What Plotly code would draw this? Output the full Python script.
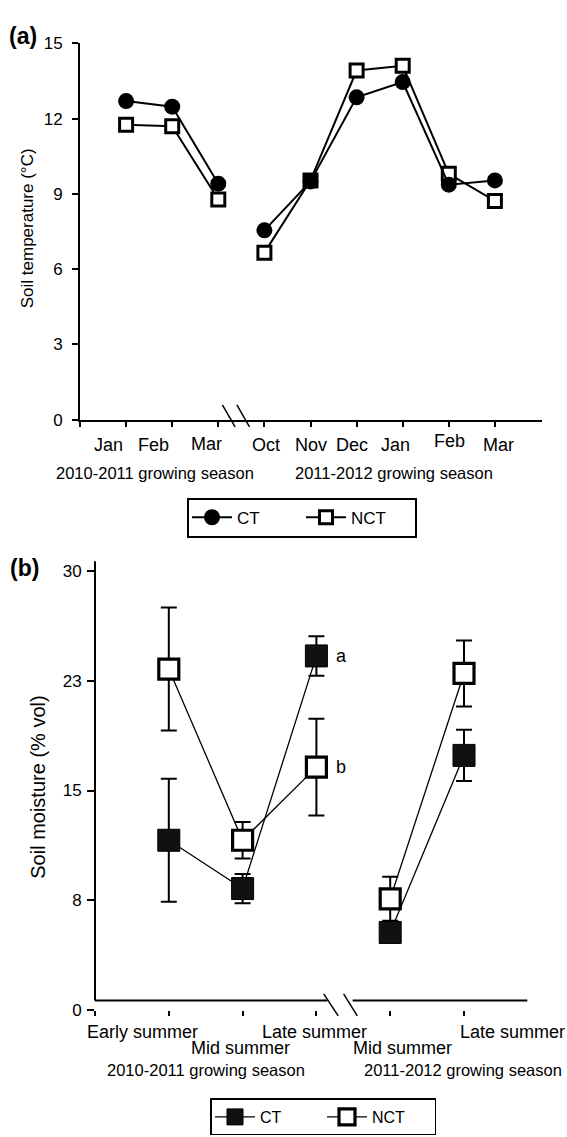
import plotly.graph_objects as go

W, H = 567, 1137
FONT = "Liberation Sans, Arial, Helvetica, sans-serif"

# ---------------- Panel (a) data ----------------
months = ["Jan", "Feb", "Mar", "Oct", "Nov", "Dec", "Jan", "Feb", "Mar"]
month_season = [0, 0, 0, 1, 1, 1, 1, 1, 1]
seasons = ["2010-2011 growing season", "2011-2012 growing season"]
temp_ct = [12.70, 12.48, 9.41, 7.55, 9.50, 12.85, 13.46, 9.37, 9.54]
temp_nct = [11.76, 11.70, 8.78, 6.66, 9.54, 13.92, 14.11, 9.80, 8.72]
temp_ticks = [0, 3, 6, 9, 12, 15]

# ---------------- Panel (b) data ----------------
periods = ["Early summer", "Mid summer", "Late summer", "Mid summer", "Late summer"]
period_season = [0, 0, 0, 1, 1]
moist_ct = [11.6, 8.3, 24.2, 5.3, 17.4]
moist_ct_err = [4.2, 1.0, 1.35, 0.5, 1.75]
moist_nct = [23.3, 11.6, 16.6, 7.6, 23.0]
moist_nct_err = [4.2, 1.25, 3.3, 1.5, 2.25]
moist_tickvals = [0, 7.5, 15, 22.5, 30]
moist_ticktext = ["0", "8", "15", "23", "30"]
sig_letters = ["a", "b"]          # CT / NCT at Late summer 2010-2011
sig_index = 2

# ---------------- layout helpers (pixel -> paper) ----------------
def px(x):
    return x / W

def py(y):
    return 1 - y / H

# label nudges (pixels) -- layout only
month_dx = [-18, -19, -12, 2, 0, -5, -7, 1, 4]
month_y = [443, 443, 442, 443, 443, 443, 443, 439, 443]
period_dx = [-26, -2, -2, 12, 48]
period_y = [1040, 1057, 1040, 1057, 1040]


def split_by_season(vals, groups, errs=None):
    out = {}
    for i, v in enumerate(vals):
        d = out.setdefault(groups[i], {"x": [], "y": [], "e": []})
        d["x"].append(i + 1)
        d["y"].append(v)
        d["e"].append(errs[i] if errs else 0)
    return [out[k] for k in sorted(out)]


fig = go.Figure()

# ---- Panel (a) traces: NCT first, CT on top
for name, vals, sym, rank in [("NCT", temp_nct, "square", 2), ("CT", temp_ct, "circle", 1)]:
    for k, seg in enumerate(split_by_season(vals, month_season)):
        fig.add_trace(go.Scatter(
            x=seg["x"], y=seg["y"], mode="lines+markers", name=name,
            xaxis="x", yaxis="y", legend="legend", legendrank=rank,
            showlegend=(k == 0), legendgroup="a" + name,
            line=dict(color="black", width=2),
            marker=dict(symbol=sym, size=16 if sym == "circle" else 13,
                        color="black" if sym == "circle" else "white",
                        line=dict(color="black", width=0 if sym == "circle" else 3)),
        ))

# ---- Panel (b) traces
for name, vals, errs, fill, size, lw, rank in [
        ("CT", moist_ct, moist_ct_err, "#111111", 22, 1, 1),
        ("NCT", moist_nct, moist_nct_err, "white", 20, 3.2, 2)]:
    for k, seg in enumerate(split_by_season(vals, period_season, errs)):
        fig.add_trace(go.Scatter(
            x=seg["x"], y=seg["y"], mode="lines+markers", name=name,
            xaxis="x2", yaxis="y2", legend="legend2", legendrank=rank,
            showlegend=(k == 0), legendgroup="b" + name,
            line=dict(color="black", width=1.3),
            error_y=dict(type="data", array=seg["e"], visible=True,
                         color="black", thickness=2, width=8),
            marker=dict(symbol="square", size=size, color=fill,
                        line=dict(color="black", width=lw)),
        ))

axis_common = dict(showgrid=False, zeroline=False, color="black",
                   ticks="outside", tickwidth=2, tickcolor="black",
                   tickfont=dict(family=FONT, size=17, color="black"))


def ann(**kw):
    d = dict(showarrow=False, xanchor="center", yanchor="middle")
    d.update(kw)
    return d


annotations = []
for i, m in enumerate(months):
    annotations.append(ann(x=i + 1, y=py(month_y[i]), xref="x", yref="paper",
                           text=m, xshift=month_dx[i],
                           font=dict(family=FONT, size=18, color="black")))
for s, cx in zip(seasons, [155, 394]):
    annotations.append(ann(x=px(cx), y=py(472), xref="paper", yref="paper", text=s,
                           font=dict(family=FONT, size=16.5, color="black")))
for i, p in enumerate(periods):
    annotations.append(ann(x=i + 1, y=py(period_y[i]), xref="x2", yref="paper",
                           text=p, xshift=period_dx[i],
                           font=dict(family=FONT, size=18, color="black")))
for s, cx in zip(seasons, [206, 463]):
    annotations.append(ann(x=px(cx), y=py(1079), xref="paper", yref="paper", text=s,
                           font=dict(family=FONT, size=16.5, color="black")))
annotations.append(ann(x=sig_index + 1, y=moist_ct[sig_index], xref="x2", yref="y2",
                       text=sig_letters[0], xshift=25,
                       font=dict(family=FONT, size=18, color="black")))
annotations.append(ann(x=sig_index + 1, y=moist_nct[sig_index], xref="x2", yref="y2",
                       text=sig_letters[1], xshift=25,
                       font=dict(family=FONT, size=18, color="black")))
annotations.append(ann(x=px(27), y=py(223), xref="paper", yref="paper",
                       text="Soil temperature (°C)", textangle=-90,
                       font=dict(family=FONT, size=17, color="black")))
annotations.append(ann(x=px(38), y=py(792), xref="paper", yref="paper",
                       text="Soil moisture (% vol)", textangle=-90,
                       font=dict(family=FONT, size=20, color="black")))
annotations.append(ann(x=px(23), y=py(27), xref="paper", yref="paper", text="<b>(a)</b>",
                       font=dict(family=FONT, size=23, color="black")))
annotations.append(ann(x=px(24), y=py(569), xref="paper", yref="paper", text="<b>(b)</b>",
                       font=dict(family=FONT, size=23, color="black")))


def seg_shape(x0, y0, x1, y1, w=1.5):
    return dict(type="line", xref="paper", yref="paper", x0=px(x0), y0=py(y0),
                x1=px(x1), y1=py(y1), line=dict(color="black", width=w))


shapes = [
    # panel a axis-break marks
    seg_shape(222.4, 402.7, 235.1, 425),
    seg_shape(236.9, 402.7, 249.5, 425),
    # panel b axis lines (x axis broken)
    seg_shape(95, 1008.3, 95, 561.7, 2),
    seg_shape(95, 1008.3, 327.3, 1008.3, 2),
    seg_shape(352.6, 1008.3, 527.3, 1008.3, 2),
    # panel b axis-break marks
    seg_shape(323.7, 1001.7, 338.2, 1024),
    seg_shape(343.6, 1001.7, 357.3, 1024),
]

fig.update_layout(
    width=W, height=H, margin=dict(l=0, r=0, t=0, b=0),
    paper_bgcolor="white", plot_bgcolor="white",
    font=dict(family=FONT, color="black"),
    xaxis=dict(domain=[px(80), px(542.3)], range=[0, (542.3 - 80) / 46.1], anchor="y",
               showline=True, linewidth=2, linecolor="black", ticklen=5,
               tickvals=list(range(len(months) + 1)), showticklabels=False, **axis_common),
    yaxis=dict(domain=[py(417.7), py(35)], range=[0, 15], anchor="x",
               showline=True, linewidth=2, linecolor="black", ticklen=6,
               tickvals=temp_ticks, ticklabelstandoff=6, **axis_common),
    xaxis2=dict(domain=[px(95), px(527.3)], range=[0, (527.3 - 95) / 73.8], anchor="y2",
                showline=False, ticklen=5,
                tickvals=list(range(len(periods) + 1)), showticklabels=False, **axis_common),
    yaxis2=dict(domain=[py(1018), py(561.7)], range=[0, (1018 - 561.7) / 14.88], anchor="x2",
                showline=False, ticklen=7, tickvals=moist_tickvals, ticktext=moist_ticktext,
                ticklabelstandoff=2, **axis_common),
    legend=dict(x=px(187), y=py(497), xanchor="left", yanchor="top", orientation="h",
                bordercolor="black", borderwidth=2, bgcolor="white",
                entrywidth=59, entrywidthmode="pixels", itemwidth=40,
                font=dict(family=FONT, size=17, color="black")),
    legend2=dict(x=px(210), y=py(1108), xanchor="left", yanchor="top", orientation="h",
                 bordercolor="black", borderwidth=1.5, bgcolor="white",
                 entrywidth=57, entrywidthmode="pixels", itemwidth=40,
                 font=dict(family=FONT, size=16, color="black")),
    annotations=annotations, shapes=shapes,
)

fig.write_html("out.html")
